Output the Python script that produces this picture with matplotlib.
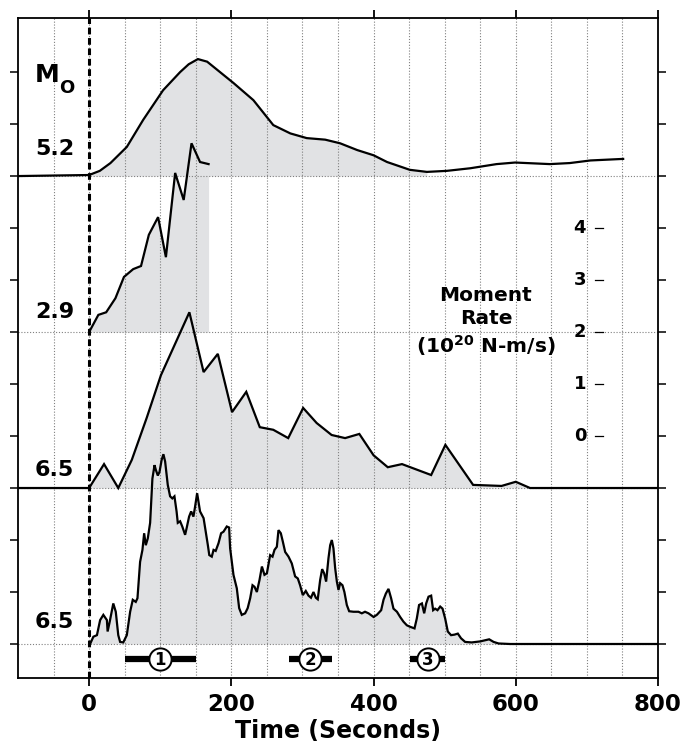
import numpy as np
import matplotlib
matplotlib.use("Agg")
import matplotlib.pyplot as plt

plt.rcParams['font.family'] = ['DejaVu Sans']
plt.rcParams['font.weight'] = 'bold'

### DATOS (tiempo en s, tasa de momento en 1e20 N-m/s sobre la linea base)
t1 = [-100, 0, 15, 30, 53, 76, 104, 128, 140, 153, 166, 203, 231, 259, 283, 306, 332, 353,
      377, 400, 419, 451, 475, 503, 536, 573, 599, 648, 676, 705, 751]
r1 = [0, 0.02, 0.1, 0.25, 0.56, 1.08, 1.65, 2.0, 2.15, 2.25, 2.2, 1.79, 1.46, 0.98, 0.82, 0.73,
      0.70, 0.63, 0.5, 0.4, 0.27, 0.12, 0.08, 0.1, 0.15, 0.23, 0.26, 0.23, 0.25, 0.30, 0.33]

t2 = [0, 13, 24, 37, 49, 62, 73, 84, 97, 108, 121, 133, 144, 156, 168]
r2 = [0, 0.33, 0.38, 0.65, 1.06, 1.21, 1.27, 1.87, 2.21, 1.44, 3.06, 2.54, 3.63, 3.27, 3.23]

t3 = [-100, 0, 21, 41, 60, 81, 101, 141, 161, 181, 201, 221, 240, 259, 280, 301, 320, 341,
      360, 380, 400, 420, 440, 481, 501, 540, 580, 600, 620, 800]
r3 = [0, 0, 0.46, 0, 0.54, 1.35, 2.17, 3.38, 2.23, 2.58, 1.46, 1.85, 1.17, 1.12, 0.96, 1.54,
      1.25, 1.02, 0.96, 1.04, 0.63, 0.40, 0.46, 0.25, 0.83, 0.06, 0.04, 0.12, 0, 0]

t4 = [0, 1.4, 6, 11, 15.5, 20, 25, 26, 29, 34,
      37.5, 41, 43.6, 48, 53, 57.7, 61.4, 65.6, 68, 71.7,
      75, 77.4, 79.7, 82.5, 85.8, 89, 92, 93.8, 96.6, 99,
      102, 104.5, 106.9, 110.6, 113.9, 117, 120, 123, 124.7, 128,
      131, 135, 137, 140.6, 143.5, 146.7, 149, 151.9, 153.8, 156,
      161, 164, 167, 169, 172.5, 175, 178, 182, 185.6, 189,
      193.6, 196.9, 198.3, 203, 207.7, 211, 214.7, 219.4, 223, 226.5,
      229.8, 232.6, 235.9, 239.6, 243, 246.6, 250, 254.6, 257.9, 260.7,
      264, 266.3, 269.6, 272.4, 275.7, 280.4, 285, 289.7, 293.5, 296.7,
      300.5, 304.7, 308.5, 312, 315.5, 318.8, 321.5, 324.9, 327.7, 330.5,
      333.3, 336.6, 339, 341.3, 343.6, 346, 348.4, 350.7, 353, 356.3,
      359, 362.4, 365.7, 371.8, 378.8, 383.5, 388, 392.9, 400, 404.6,
      410.7, 414, 417.3, 421, 424.7, 428, 432.9, 437.4, 442, 446.8,
      451.5, 457.6, 460.8, 464, 468, 471.2, 474, 477.3, 481, 483.8,
      486.6, 489.9, 493.7, 497, 500.7, 504.4, 509, 513.8, 518.5, 523,
      528.8, 538, 550, 562.6, 568.8, 575.8, 592, 800]
r4 = [0, 0.0, 0.14, 0.17, 0.46, 0.56, 0.46, 0.24, 0.43, 0.78,
      0.62, 0.17, 0.04, 0.03, 0.17, 0.62, 0.85, 0.81, 0.88, 1.58,
      1.81, 2.13, 1.9, 2.03, 2.33, 3.18, 3.44, 3.35, 3.24, 3.31,
      3.54, 3.65, 3.51, 3.06, 2.84, 2.80, 2.84, 2.55, 2.33, 2.36,
      2.26, 2.10, 2.22, 2.45, 2.55, 2.45, 2.64, 2.90, 2.74, 2.55,
      2.42, 2.16, 1.90, 1.71, 1.68, 1.81, 1.79, 1.94, 2.13, 2.16,
      2.26, 2.24, 1.84, 1.33, 1.07, 0.69, 0.56, 0.59, 0.69, 0.88,
      1.13, 1.10, 1.0, 1.23, 1.49, 1.33, 1.36, 1.71, 1.68, 1.81,
      1.87, 2.19, 2.13, 1.97, 1.77, 1.68, 1.55, 1.30, 1.26, 1.13,
      0.94, 1.02, 0.93, 0.89, 1.0, 0.89, 0.86, 1.23, 1.44, 1.36,
      1.20, 1.65, 1.90, 2.0, 1.84, 1.46, 1.20, 1.04, 1.17, 1.13,
      1.0, 0.75, 0.63, 0.62, 0.62, 0.59, 0.62, 0.59, 0.52, 0.56,
      0.65, 0.85, 0.97, 1.06, 0.88, 0.68, 0.62, 0.52, 0.43, 0.36,
      0.33, 0.30, 0.49, 0.75, 0.78, 0.59, 0.78, 0.91, 0.93, 0.65,
      0.68, 0.65, 0.72, 0.68, 0.49, 0.24, 0.17, 0.18, 0.20, 0.11,
      0.04, 0.03, 0.05, 0.09, 0.04, 0.01, 0.0, 0.0]

mo_labels = ["5.2", "2.9", "6.5", "6.5"]
baselines = [9, 6, 3, 0]

# subeventos: inicio, fin, centro
sub_ids = ["1", "2", "3"]
sub_start = [50, 281, 451]
sub_end = [151, 342, 501]
sub_center = [99, 311, 476]

scale_vals = [0, 1, 2, 3, 4]
xticks = [0, 200, 400, 600, 800]

GRAY = "#e1e2e4"

fig = plt.figure(figsize=(6.81, 7.46), dpi=100)
ax = fig.add_axes([18 / 681, 68 / 746, 640 / 681, 660 / 746])
ax.set_xlim(-100, 800)
ax.set_ylim(-0.654, 12.04)

traces = [(t1, r1), (t2, r2), (t3, r3), (t4, r4)]
fill_end = [475, 168, 620, 800]

for (t, r), b, fe in zip(traces, baselines, fill_end):
    t = np.array(t, dtype=float)
    y = b + np.array(r, dtype=float)
    ax.fill_between(t, b, y, where=(t >= 0) & (t <= fe), color=GRAY, lw=0, zorder=1)
    ax.plot(t, y, color="black", lw=1.6, zorder=3, solid_joinstyle="miter")

### GRILLA
for xv in range(-50, 800, 50):
    ax.axvline(xv, color="#808080", lw=0.8, ls=(0, (1, 1.6)), zorder=2)
for b in baselines:
    ax.axhline(b, color="#808080", lw=0.8, ls=(0, (1, 1.6)), zorder=2)

ax.axvline(0, color="black", lw=2.2, ls=(0, (2.2, 1.2)), zorder=4)

### ETIQUETAS Mo
ax.text(-58.5, 10.8, "M", fontsize=18, ha="center", va="baseline", fontweight="bold")
ax.text(-41.5, 10.6, "O", fontsize=13, ha="left", va="baseline", fontweight="bold")
ylab = [9.52, 6.38, 3.35, 0.42]
for lab, yy in zip(mo_labels, ylab):
    ax.text(-48.5, yy, lab, fontsize=16, ha="center", va="center", fontweight="bold")

### ESCALA
for v in scale_vals:
    ax.plot([712, 723], [4 + v, 4 + v], color="black", lw=0.9, zorder=3)
    ax.text(699, 4 + v, str(v), fontsize=13, ha="right", va="center", fontweight="bold")
ax.text(558, 6.19, "Moment\nRate\n(10$^{\\mathbf{20}}$ N-m/s)", fontsize=14.5, ha="center",
        va="center", fontweight="bold", linespacing=1.25)

### SUBEVENTOS
for sid, s0, s1, c in zip(sub_ids, sub_start, sub_end, sub_center):
    ax.plot([s0, s1], [-0.295, -0.295], color="black", lw=4.5, solid_capstyle="butt", zorder=5)
    ax.plot([c], [-0.295], marker="o", ms=16, mfc="white", mec="black", mew=1.4, zorder=6)
    ax.text(c, -0.3, sid, fontsize=12, ha="center", va="center", fontweight="bold", zorder=7)

### EJES
ax.set_xticks(xticks)
ax.set_xticklabels([str(x) for x in xticks], fontsize=16.5, fontweight="bold")
ax.set_yticks(range(0, 12))
ax.set_yticklabels([])
ax.tick_params(axis="x", direction="out", length=6, width=1.3, top=True, pad=5)
ax.tick_params(axis="y", direction="out", length=6, width=1.1, right=True)
for s in ax.spines.values():
    s.set_linewidth(1.3)
ax.set_xlabel("Time (Seconds)", fontsize=17, fontweight="bold", labelpad=2)

plt.savefig("out.png", dpi=100)
plt.close()
